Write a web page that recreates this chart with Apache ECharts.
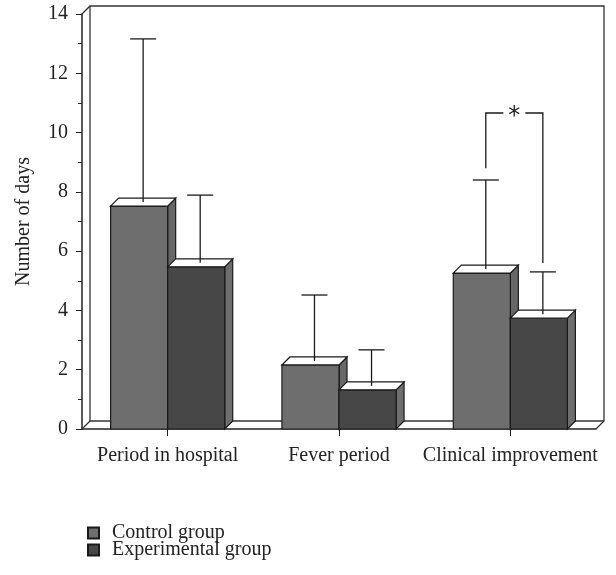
<!DOCTYPE html>
<html><head><meta charset="utf-8">
<script src="https://cdn.jsdelivr.net/npm/echarts@6/dist/echarts.min.js"></script>
<style>html,body{margin:0;padding:0;background:#fff}#c{width:616px;height:575px}</style>
</head><body><div id="c"></div>
<script>
// ---- data ----
const categories = ['Period in hospital', 'Fever period', 'Clinical improvement'];
const controlMean = [7.52, 2.16, 5.26];
const controlErrTop = [13.16, 4.52, 8.40];
const experimentalMean = [5.47, 1.32, 3.74];
const experimentalErrTop = [7.89, 2.67, 5.30];
const yMin = 0, yMax = 14, yInterval = 2;
const seriesNames = ['Control group', 'Experimental group'];
// significance bracket on "Clinical improvement"
const bracketCategory = 2;
const bracketLevel = 10.66;
const bracketLeftEnd = 8.8;
const bracketRightEnd = 5.6;
const bracketLabel = '*';

// ---- style ----
const FONT = 'Liberation Serif';
const DX = 8, DY = 8;
const EDGE = '#1a1a1a';
const CONTROL_FRONT = '#6e6e6e', CONTROL_SIDE = '#676767';
const EXP_FRONT = '#474747', EXP_SIDE = '#6e6e6e';

function barGeom(api, idx, val, side) {
  const c = api.coord([idx, val]);
  const base = api.coord([idx, 0]);
  const band = api.size([1, 0])[0];
  const w = band * 0.333;
  const xl = side < 0 ? c[0] - w : c[0];
  return {xl: xl, xr: xl + w, yt: c[1], yb: base[1], w: w};
}

function barRender(side, front, sideColor) {
  return function (params, api) {
    const idx = api.value(0), val = api.value(1), err = api.value(2);
    const g = barGeom(api, idx, val, side);
    const ex = (g.xl + g.xr) / 2 + DX / 2;
    const ey = api.coord([idx, err])[1];
    const cap = 13;
    const st = {stroke: EDGE, lineWidth: 1.2};
    return {type: 'group', children: [
      {type: 'polygon', shape: {points: [[g.xr, g.yt], [g.xr + DX, g.yt - DY], [g.xr + DX, g.yb - DY], [g.xr, g.yb]]},
        style: Object.assign({fill: sideColor}, st)},
      {type: 'rect', shape: {x: g.xl, y: g.yt, width: g.w, height: g.yb - g.yt},
        style: Object.assign({fill: front}, st)},
      {type: 'polygon', shape: {points: [[g.xl, g.yt], [g.xl + DX, g.yt - DY], [g.xr + DX, g.yt - DY], [g.xr, g.yt]]},
        style: Object.assign({fill: '#fff'}, st)},
      {type: 'line', shape: {x1: ex, y1: g.yt - DY / 2, x2: ex, y2: ey}, style: {stroke: EDGE, lineWidth: 1.3}},
      {type: 'line', shape: {x1: ex - cap, y1: ey, x2: ex + cap, y2: ey}, style: {stroke: EDGE, lineWidth: 1.3}}
    ]};
  };
}

function frameRender(params, api) {
  const cs = params.coordSys;
  const x0 = cs.x, x1 = cs.x + cs.width, yT = cs.y, yB = cs.y + cs.height;
  const st = {stroke: '#333', lineWidth: 1.3, fill: null};
  return {type: 'group', silent: true, children: [
    {type: 'polyline', shape: {points: [[x0, yT], [x0 + DX, yT - DY], [x1 + DX, yT - DY], [x1 + DX, yB - DY], [x1, yB]]}, style: st},
    {type: 'polyline', shape: {points: [[x0 + DX, yT - DY], [x0 + DX, yB - DY], [x1 + DX, yB - DY]]}, style: st},
    {type: 'line', shape: {x1: x0, y1: yB, x2: x0 + DX, y2: yB - DY}, style: st}
  ]};
}

function bracketRender(params, api) {
  const idx = api.value(0);
  const gl = barGeom(api, idx, controlMean[idx], -1);
  const gr = barGeom(api, idx, experimentalMean[idx], 1);
  const xl = (gl.xl + gl.xr) / 2 + DX / 2;
  const xr = (gr.xl + gr.xr) / 2 + DX / 2;
  const yLev = api.coord([idx, api.value(1)])[1];
  const yL = api.coord([idx, api.value(2)])[1];
  const yR = api.coord([idx, api.value(3)])[1];
  const mid = (xl + xr) / 2;
  const gap = 11;
  const st = {stroke: EDGE, lineWidth: 1.3, fill: null};
  return {type: 'group', children: [
    {type: 'polyline', shape: {points: [[xl, yL], [xl, yLev], [mid - gap, yLev]]}, style: st},
    {type: 'polyline', shape: {points: [[mid + gap, yLev], [xr, yLev], [xr, yR]]}, style: st},
    {type: 'text', x: mid, y: yLev + 4, style: {text: bracketLabel, fontFamily: 'DejaVu Sans', fontSize: 24,
      fill: '#222', align: 'center', verticalAlign: 'middle'}}
  ]};
}

const chart = echarts.init(document.getElementById('c'));
chart.setOption({
  animation: false,
  backgroundColor: '#fff',
  grid: {left: 82, right: 20, top: 14, bottom: 146},
  legend: {
    orient: 'vertical', left: 87, top: 523, padding: 0, height: 54,
    itemWidth: 11, itemHeight: 11, itemGap: -3,
    icon: 'rect', data: seriesNames,
    textStyle: {fontFamily: FONT, fontSize: 20, lineHeight: 16, color: '#222', padding: [0, 0, 0, 8]}
  },
  xAxis: {
    type: 'category', data: categories,
    axisLine: {show: true, lineStyle: {color: '#222', width: 1.5}},
    axisTick: {show: true, alignWithLabel: true, length: 7, lineStyle: {color: '#222'}},
    axisLabel: {fontFamily: FONT, fontSize: 20, color: '#222', margin: 17, interval: 0},
    splitLine: {show: false}
  },
  yAxis: {
    type: 'value', min: yMin, max: yMax, interval: yInterval,
    name: 'Number of days', nameLocation: 'middle', nameRotate: 90, nameGap: 48,
    nameTextStyle: {fontFamily: FONT, fontSize: 20, color: '#222'},
    axisLine: {show: true, lineStyle: {color: '#222', width: 1.5}},
    axisTick: {show: true, length: 6, lineStyle: {color: '#222'}},
    minorTick: {show: true, splitNumber: 2, length: 4, lineStyle: {color: '#222'}},
    axisLabel: {fontFamily: FONT, fontSize: 20, color: '#222', margin: 14},
    splitLine: {show: false}
  },
  series: [
    {type: 'custom', name: 'frame', silent: true, z: 1, data: [[0, 0]], renderItem: frameRender},
    {type: 'custom', name: seriesNames[0], z: 3,
      itemStyle: {color: CONTROL_FRONT, borderColor: EDGE, borderWidth: 1},
      data: categories.map((c, i) => [i, controlMean[i], controlErrTop[i]]),
      renderItem: barRender(-1, CONTROL_FRONT, CONTROL_SIDE)},
    {type: 'custom', name: seriesNames[1], z: 4,
      itemStyle: {color: EXP_FRONT, borderColor: EDGE, borderWidth: 1},
      data: categories.map((c, i) => [i, experimentalMean[i], experimentalErrTop[i]]),
      renderItem: barRender(1, EXP_FRONT, EXP_SIDE)},
    {type: 'custom', name: 'bracket', silent: true, z: 5,
      data: [[bracketCategory, bracketLevel, bracketLeftEnd, bracketRightEnd]],
      renderItem: bracketRender}
  ]
});
</script></body></html>
